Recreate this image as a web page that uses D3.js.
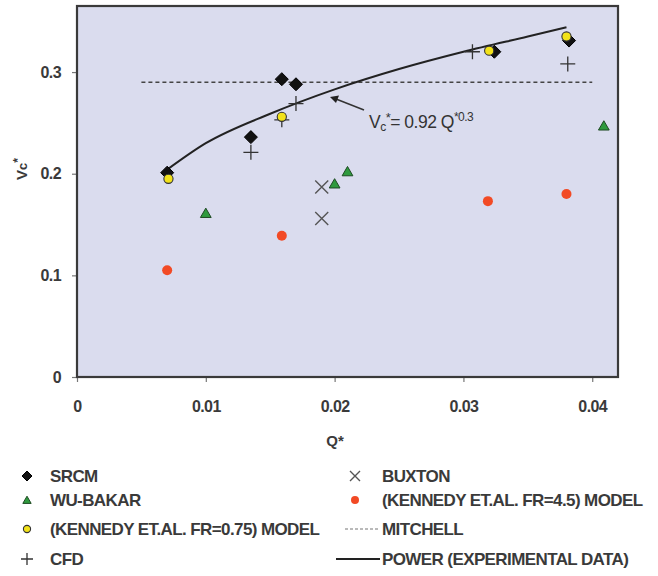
<!DOCTYPE html>
<html><head><meta charset="utf-8">
<script src="https://cdn.jsdelivr.net/npm/d3@7"></script>
<style>
html,body{margin:0;padding:0;background:#fff;}
svg{display:block;font-family:"Liberation Sans",Arial,sans-serif;}
</style></head>
<body><svg id="c" width="658" height="576"></svg>
<script>
// ---- data ----
const srcmQ = [0.0070, 0.0135, 0.0159, 0.0170, 0.0324, 0.0382];
const srcmV = [0.201, 0.236, 0.293, 0.288, 0.320, 0.331];
const wuQ = [0.0100, 0.0200, 0.0210, 0.0409];
const wuV = [0.161, 0.190, 0.202, 0.247];
const ken075Q = [0.0071, 0.0159, 0.0320, 0.0380];
const ken075V = [0.195, 0.256, 0.321, 0.335];
const cfdQ = [0.0135, 0.0159, 0.0170, 0.0307, 0.0381];
const cfdV = [0.221, 0.253, 0.269, 0.320, 0.308];
const buxQ = [0.0190, 0.0190];
const buxV = [0.187, 0.156];
const ken45Q = [0.0070, 0.0159, 0.0319, 0.0380];
const ken45V = [0.105, 0.139, 0.173, 0.180];
const mitchellQ = [0.005, 0.040];
const mitchellV = [0.290, 0.290];
const powerQ = [0.0070, 0.0100, 0.0150, 0.0200, 0.0250, 0.0300, 0.0350, 0.0380];
const powerV = [0.204, 0.230, 0.259, 0.283, 0.303, 0.320, 0.335, 0.344];
const xTicks = [0, 0.01, 0.02, 0.03, 0.04];
const yTicks = [0, 0.1, 0.2, 0.3];
const legendLeft = ["SRCM", "WU-BAKAR", "(KENNEDY ET.AL. FR=0.75) MODEL", "CFD"];
const legendRight = ["BUXTON", "(KENNEDY ET.AL. FR=4.5) MODEL", "MITCHELL", "POWER (EXPERIMENTAL DATA)"];

const svg = d3.select("#c");
const x = d3.scaleLinear().domain([0, 0.042]).range([77, 618]);
const y = d3.scaleLinear().domain([0, 0.365]).range([377, 6]);
const zip = (a, b) => a.map((v, i) => [v, b[i]]);

// plot background
svg.append("rect").attr("x", x(0)).attr("y", y(0.365)).attr("width", x(0.042) - x(0)).attr("height", y(0) - y(0.365))
  .attr("fill", "#dadcee");

// axes
const xa = svg.append("g").attr("transform", `translate(0,${y(0)})`)
  .call(d3.axisBottom(x).tickValues(xTicks).tickSize(5).tickPadding(19).tickFormat(d => d === 0 ? "0" : d3.format(".2f")(d)));
const ya = svg.append("g").attr("transform", `translate(${x(0)},0)`)
  .call(d3.axisLeft(y).tickValues(yTicks).tickSize(5).tickPadding(11).tickFormat(d => d === 0 ? "0" : d3.format(".1f")(d)));
[xa, ya].forEach(g => {
  g.select(".domain").remove();
  g.selectAll(".tick line").attr("stroke", "#777").attr("stroke-width", 1.2);
  g.selectAll(".tick text").attr("fill", "#3a3a3a").attr("font-size", 16).attr("font-weight", "bold")
    .attr("font-family", "'Liberation Sans',Arial,sans-serif").attr("letter-spacing", "-0.6");
});

// frame
svg.append("rect").attr("x", x(0)).attr("y", y(0.365)).attr("width", x(0.042) - x(0)).attr("height", y(0) - y(0.365))
  .attr("fill", "none").attr("stroke", "#3a3a3a").attr("stroke-width", 2.2);

// axis titles
svg.append("text").attr("x", 335).attr("y", 446).attr("text-anchor", "middle").attr("font-size", 15)
  .attr("font-weight", "bold").attr("fill", "#3a3a3a").text("Q*");
const yl = svg.append("text").attr("transform", "translate(27,169) rotate(-90)").attr("text-anchor", "middle")
  .attr("font-size", 15).attr("font-weight", "bold").attr("fill", "#3a3a3a");
yl.append("tspan").text("V");
yl.append("tspan").attr("font-size", 13).text("c");
yl.append("tspan").attr("font-size", 12).attr("dy", -5).text("*");

// lines
const line = d3.line().x(d => x(d[0])).y(d => y(d[1]));
svg.append("path").datum(zip(mitchellQ, mitchellV)).attr("d", line).attr("fill", "none")
  .attr("stroke", "#444").attr("stroke-width", 1.3).attr("stroke-dasharray", "4,3");
svg.append("path").datum(zip(powerQ, powerV)).attr("d", line.curve(d3.curveMonotoneX)).attr("fill", "none")
  .attr("stroke", "#222").attr("stroke-width", 2);

// annotation
svg.append("line").attr("x1", 364).attr("y1", 110).attr("x2", 336).attr("y2", 99).attr("stroke", "#333").attr("stroke-width", 1.6);
svg.append("path").attr("d", "M330,97 L339,95.5 L336,103 Z").attr("fill", "#222");
const ann = svg.append("text").attr("x", 369).attr("y", 128).attr("font-size", 17.5).attr("fill", "#333")
  .attr("letter-spacing", "-0.5");
ann.append("tspan").text("V");
ann.append("tspan").attr("font-size", 12).attr("dy", 3).text("c");
ann.append("tspan").attr("font-size", 13).attr("dy", -9).text("*");
ann.append("tspan").attr("dy", 6).text("= 0.92 Q");
ann.append("tspan").attr("font-size", 12).attr("dy", -7).text("*0.3");

// marker drawers
const sym = (type, size) => d3.symbol().type(type).size(size);
function diamond(g, cx, cy, h) {
  h = h || 6.5;
  g.append("path").attr("d", `M${cx},${cy - h}L${cx + h},${cy}L${cx},${cy + h}L${cx - h},${cy}Z`)
    .attr("fill", "#111").attr("stroke", "#000").attr("stroke-width", 1);
}
function tri(g, cx, cy, s) {
  g.append("path").attr("transform", `translate(${cx},${cy + 1})`).attr("d", sym(d3.symbolTriangle, s || 50)())
    .attr("fill", "#2f9a3e").attr("stroke", "#1d4a22").attr("stroke-width", 1);
}
function ycirc(g, cx, cy, r) {
  g.append("circle").attr("cx", cx).attr("cy", cy).attr("r", r || 4.6).attr("fill", "#f2e21a").attr("stroke", "#333").attr("stroke-width", 1.1);
}
function plus(g, cx, cy, h) {
  h = h || 7.5;
  g.append("path").attr("d", `M${cx - h},${cy}H${cx + h}M${cx},${cy - h}V${cy + h}`).attr("stroke", "#333").attr("stroke-width", 1.3);
}
function cross(g, cx, cy, h) {
  h = h || 6.5;
  g.append("path").attr("d", `M${cx - h},${cy - h}L${cx + h},${cy + h}M${cx - h},${cy + h}L${cx + h},${cy - h}`).attr("stroke", "#555").attr("stroke-width", 1.4);
}
function rcirc(g, cx, cy, r) {
  g.append("circle").attr("cx", cx).attr("cy", cy).attr("r", r || 5).attr("fill", "#f24a25");
}

const pts = svg.append("g");
zip(ken45Q, ken45V).forEach(d => rcirc(pts, x(d[0]), y(d[1])));
zip(buxQ, buxV).forEach(d => cross(pts, x(d[0]), y(d[1])));
zip(wuQ, wuV).forEach(d => tri(pts, x(d[0]), y(d[1])));
zip(cfdQ, cfdV).forEach(d => plus(pts, x(d[0]), y(d[1])));
zip(srcmQ, srcmV).forEach(d => diamond(pts, x(d[0]), y(d[1])));
zip(ken075Q, ken075V).forEach(d => ycirc(pts, x(d[0]), y(d[1])));

// legend
const lg = svg.append("g").attr("font-size", 17).attr("font-weight", "bold").attr("fill", "#3a3a3a").attr("letter-spacing", "-0.6");
const rowsY = [476, 500, 529, 559];
legendLeft.forEach((t, i) => {
  if (i === 0) diamond(lg, 27, rowsY[i], 5);
  else if (i === 1) tri(lg, 27, rowsY[i], 30);
  else if (i === 2) ycirc(lg, 27, rowsY[i], 3.6);
  else plus(lg, 27, rowsY[i], 6);
  lg.append("text").attr("x", 50).attr("y", rowsY[i] + 6).text(t);
});
legendRight.forEach((t, i) => {
  if (i === 0) cross(lg, 355, rowsY[i], 5);
  else if (i === 1) rcirc(lg, 355, rowsY[i], 4);
  else if (i === 2) lg.append("line").attr("x1", 345).attr("x2", 380).attr("y1", rowsY[i]).attr("y2", rowsY[i])
    .attr("stroke", "#777").attr("stroke-width", 1.2).attr("stroke-dasharray", "3,2");
  else lg.append("line").attr("x1", 336).attr("x2", 380).attr("y1", rowsY[i]).attr("y2", rowsY[i])
    .attr("stroke", "#222").attr("stroke-width", 2);
  lg.append("text").attr("x", 382).attr("y", rowsY[i] + 6).text(t);
});
</script></body></html>
